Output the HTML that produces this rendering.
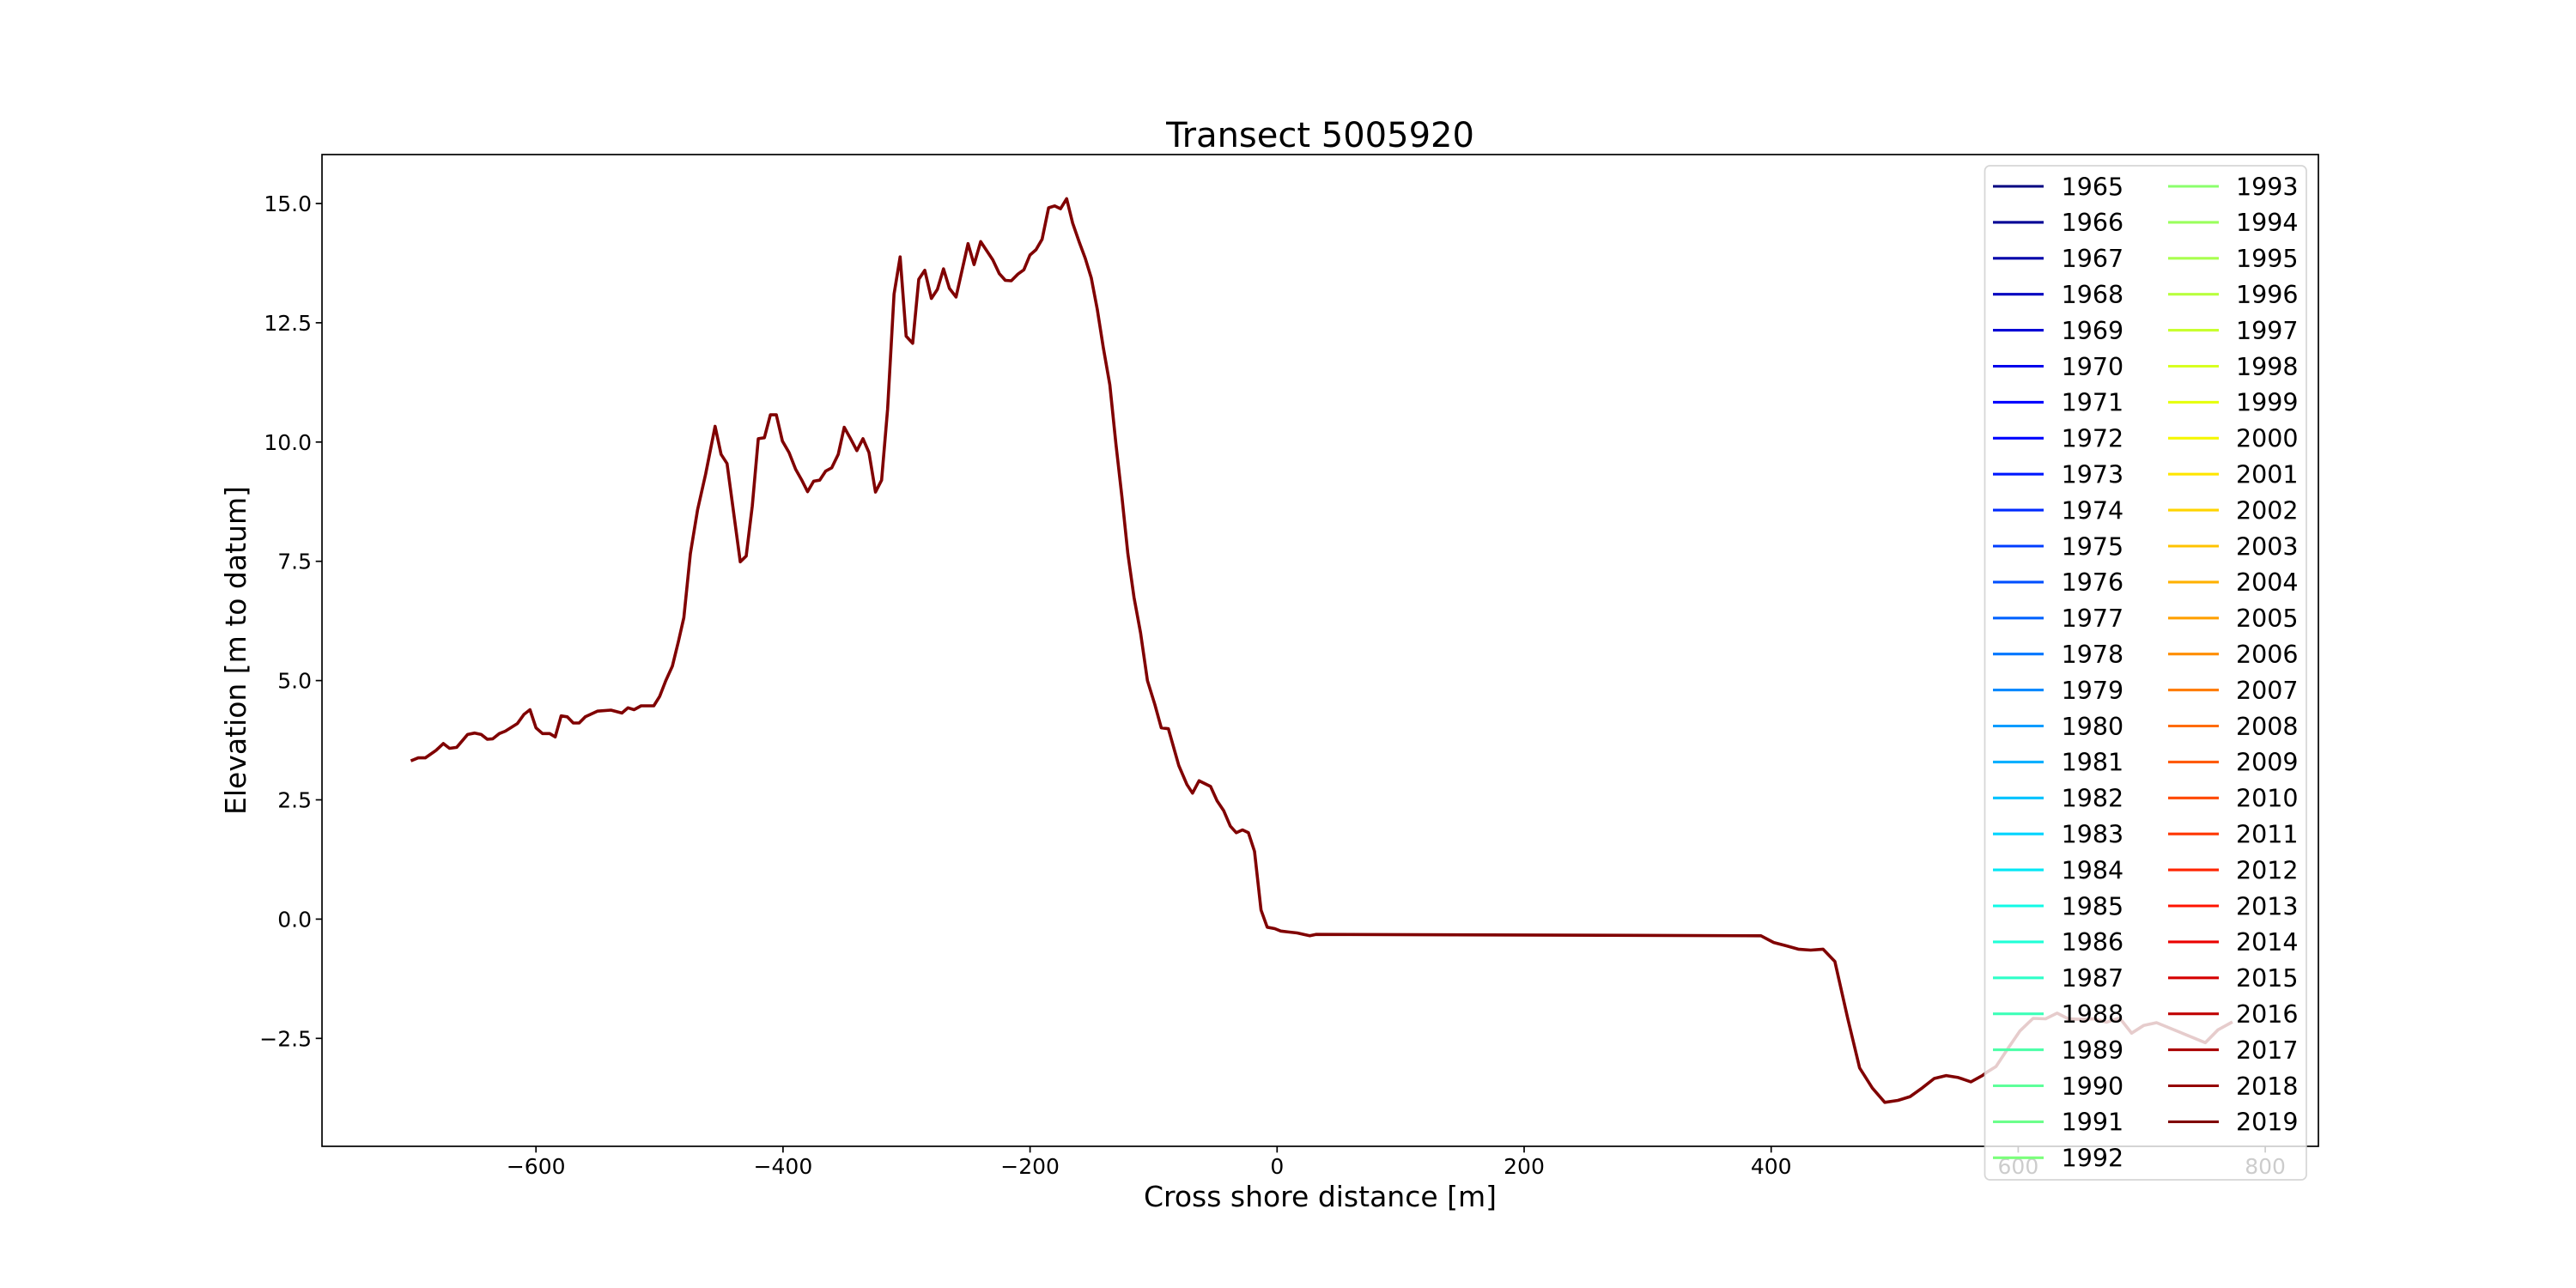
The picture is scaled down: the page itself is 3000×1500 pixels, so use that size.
<!DOCTYPE html>
<html><head><meta charset="utf-8"><title>Transect 5005920</title>
<style>
html,body{margin:0;padding:0;background:#fff;}
svg{display:block;font-family:"DejaVu Sans","Liberation Sans",sans-serif;}
</style></head>
<body>
<svg id="chart" width="3000" height="1500" viewBox="0 0 3000 1500" xmlns="http://www.w3.org/2000/svg">
<rect x="0" y="0" width="3000" height="1500" fill="#fff"/>
<text x="1537.5" y="171" font-size="40" text-anchor="middle">Transect 5005920</text>
<text x="1537.5" y="1405" font-size="33" text-anchor="middle">Cross shore distance [m]</text>
<text transform="translate(286,757.5) rotate(-90)" font-size="33" text-anchor="middle">Elevation [m to datum]</text>
<g id="plot"></g>
</svg>
<script>
const xTicks = [-600, -400, -200, 0, 200, 400, 600, 800];
const yTicks = [-2.5, 0.0, 2.5, 5.0, 7.5, 10.0, 12.5, 15.0];
const yTickLabels = ["\u22122.5", "0.0", "2.5", "5.0", "7.5", "10.0", "12.5", "15.0"];
const years = [];
for (let y = 1965; y <= 2019; y++) years.push(y);
const distance = [-700.2,-695.3,-689.6,-680.8,-675,-670,-664.2,-655.4,-649.6,-644.3,-639.4,-635,-629.7,-624.8,-615,-609.7,-604.9,-600,-594.7,-588.9,-584.4,-579.6,-574.7,-569.8,-565,-560.1,-550.3,-539.3,-530.4,-525.5,-520.6,-514.9,-504.6,-499.8,-494.9,-489.6,-484.7,-480.3,-475,-469.2,-462.6,-455,-450.1,-445.3,-434.6,-429.8,-424.9,-420,-415.1,-410.2,-405.4,-400.5,-395.1,-389.8,-385,-380.1,-375.2,-370.3,-365.5,-360.6,-355.3,-350.4,-345.5,-340.2,-335.3,-330.4,-325.1,-320.2,-315.3,-310.1,-305.2,-300.3,-295,-290.1,-285.2,-279.9,-275,-270.1,-265.3,-259.9,-250.2,-245.3,-240,-230.2,-224.9,-220,-215.2,-209.8,-205,-200.1,-195.2,-190.3,-185,-180.1,-175.3,-170.4,-165.5,-160.2,-155.3,-150.4,-145.6,-140.7,-135.4,-130.5,-125.6,-120.8,-115.8,-110.5,-105,-99,-93.8,-88,-79.6,-73,-68.5,-63.2,-53.9,-48.6,-43.2,-37.9,-33,-28,-23.2,-18.3,-13,-8,-1.9,3,9.2,16.3,21.6,26.5,31.4,391.7,402,412.3,422,432,442,451.6,461.9,471.6,481.9,492,502.7,512.5,522.2,532,541.7,551.5,561.7,571,574.6,582,591.7,601.5,612,622.2,631.5,640.5,650.3,661.3,671.5,682,691.8,701.5,712,751.5,761.8,772.3];
const elevation2019 = [3.33,3.38,3.38,3.54,3.68,3.58,3.6,3.87,3.9,3.87,3.77,3.78,3.89,3.94,4.1,4.29,4.39,4.01,3.89,3.89,3.82,4.26,4.24,4.11,4.11,4.24,4.36,4.38,4.32,4.43,4.39,4.47,4.47,4.67,5.0,5.3,5.82,6.32,7.66,8.58,9.33,10.33,9.74,9.55,7.49,7.61,8.66,10.07,10.09,10.57,10.57,10.02,9.78,9.43,9.21,8.96,9.18,9.2,9.39,9.46,9.74,10.31,10.08,9.82,10.07,9.78,8.95,9.2,10.69,13.1,13.88,12.22,12.07,13.41,13.6,13.01,13.2,13.63,13.22,13.04,14.16,13.72,14.2,13.82,13.53,13.39,13.38,13.52,13.61,13.92,14.03,14.25,14.91,14.95,14.89,15.1,14.59,14.19,13.85,13.44,12.78,11.98,11.2,9.96,8.85,7.66,6.74,6.0,5.0,4.5,4.01,3.99,3.22,2.82,2.64,2.9,2.78,2.48,2.27,1.95,1.81,1.87,1.81,1.42,0.19,-0.17,-0.2,-0.25,-0.27,-0.29,-0.32,-0.35,-0.32,-0.35,-0.49,-0.56,-0.63,-0.65,-0.63,-0.89,-2.07,-3.12,-3.54,-3.84,-3.8,-3.72,-3.54,-3.34,-3.28,-3.32,-3.41,-3.28,-3.21,-3.09,-2.71,-2.34,-2.08,-2.09,-1.97,-2.09,-2.1,-2.09,-2.16,-2.07,-2.39,-2.23,-2.17,-2.59,-2.32,-2.17];

const NS = "http://www.w3.org/2000/svg";
const L = 375, R = 2700, T = 180, B = 1335;
const X0 = 1487.3, XS = 1.4385;
const Y0 = 1070.4, YS = 55.56;
function sx(v){ return X0 + v * XS; }
function sy(v){ return Y0 - v * YS; }
function lerp(pts, t){
  for (let i = 1; i < pts.length; i++){
    if (t <= pts[i][0]){
      const a = pts[i-1], b = pts[i];
      return a[1] + (b[1]-a[1]) * (t-a[0])/(b[0]-a[0]);
    }
  }
  return pts[pts.length-1][1];
}
function jet(t){
  const r = lerp([[0,0],[0.35,0],[0.66,1],[0.89,1],[1,0.5]], t);
  const g = lerp([[0,0],[0.125,0],[0.375,1],[0.64,1],[0.91,0],[1,0]], t);
  const b = lerp([[0,0.5],[0.11,1],[0.34,1],[0.65,0],[1,0]], t);
  return "rgb(" + Math.round(r*255) + "," + Math.round(g*255) + "," + Math.round(b*255) + ")";
}
function mk(tag, attrs){
  const e = document.createElementNS(NS, tag);
  for (const k in attrs) e.setAttribute(k, attrs[k]);
  return e;
}
const plot = document.getElementById("plot");

let d = "";
for (let i = 0; i < distance.length; i++){
  d += (i ? "L" : "M") + sx(distance[i]).toFixed(1) + "," + sy(elevation2019[i]).toFixed(1);
}
const line = mk("path", {d: d, fill: "none", stroke: jet(1), "stroke-width": 3.6, "stroke-linejoin": "round", "stroke-linecap": "square"});


plot.appendChild(line);

const frame = mk("rect", {x: L, y: T, width: R-L, height: B-T, fill: "none", stroke: "#000", "stroke-width": 1.7});


plot.appendChild(frame);

xTicks.forEach(function(v){
  const x = sx(v);
  const tk = mk("line", {x1: x, x2: x, y1: B, y2: B+7.3, stroke: "#000", "stroke-width": 1.7});
  
  
  plot.appendChild(tk);
  const lb = mk("text", {x: x, y: 1367, "font-size": 25, "text-anchor": "middle"});
  lb.textContent = v < 0 ? "\u2212" + Math.abs(v) : String(v);
  
  
  plot.appendChild(lb);
});
yTicks.forEach(function(v, i){
  const y = sy(v);
  const tk = mk("line", {x1: L-7.3, x2: L, y1: y, y2: y, stroke: "#000", "stroke-width": 1.7});
  
  
  plot.appendChild(tk);
  const lb = mk("text", {x: 363, y: y + 9, "font-size": 25, "text-anchor": "end"});
  lb.textContent = yTickLabels[i];
  
  
  plot.appendChild(lb);
});

const leg = mk("g", {});


const box = mk("rect", {x: 2311.5, y: 193, width: 374.5, height: 1181, rx: 6, ry: 6, fill: "#fff", "fill-opacity": 0.8, stroke: "#cccccc", "stroke-opacity": 0.8, "stroke-width": 1.7});


leg.appendChild(box);
years.forEach(function(yr, i){
  const col = i < 28 ? 0 : 1;
  const row = col ? i - 28 : i;
  const y = 217 + row * 41.9;
  const hx = col ? 2525 : 2321;
  const tx = col ? 2604 : 2400.6;
  const c = jet(i / (years.length - 1));
  const h = mk("line", {x1: hx, x2: hx + 59, y1: y, y2: y, stroke: c, "stroke-width": 3.1});
  
  
  leg.appendChild(h);
  const t = mk("text", {x: tx, y: y + 10.3, "font-size": 28.5});
  t.textContent = String(yr);
  
  
  leg.appendChild(t);
});
plot.appendChild(leg);
</script>
</body></html>
